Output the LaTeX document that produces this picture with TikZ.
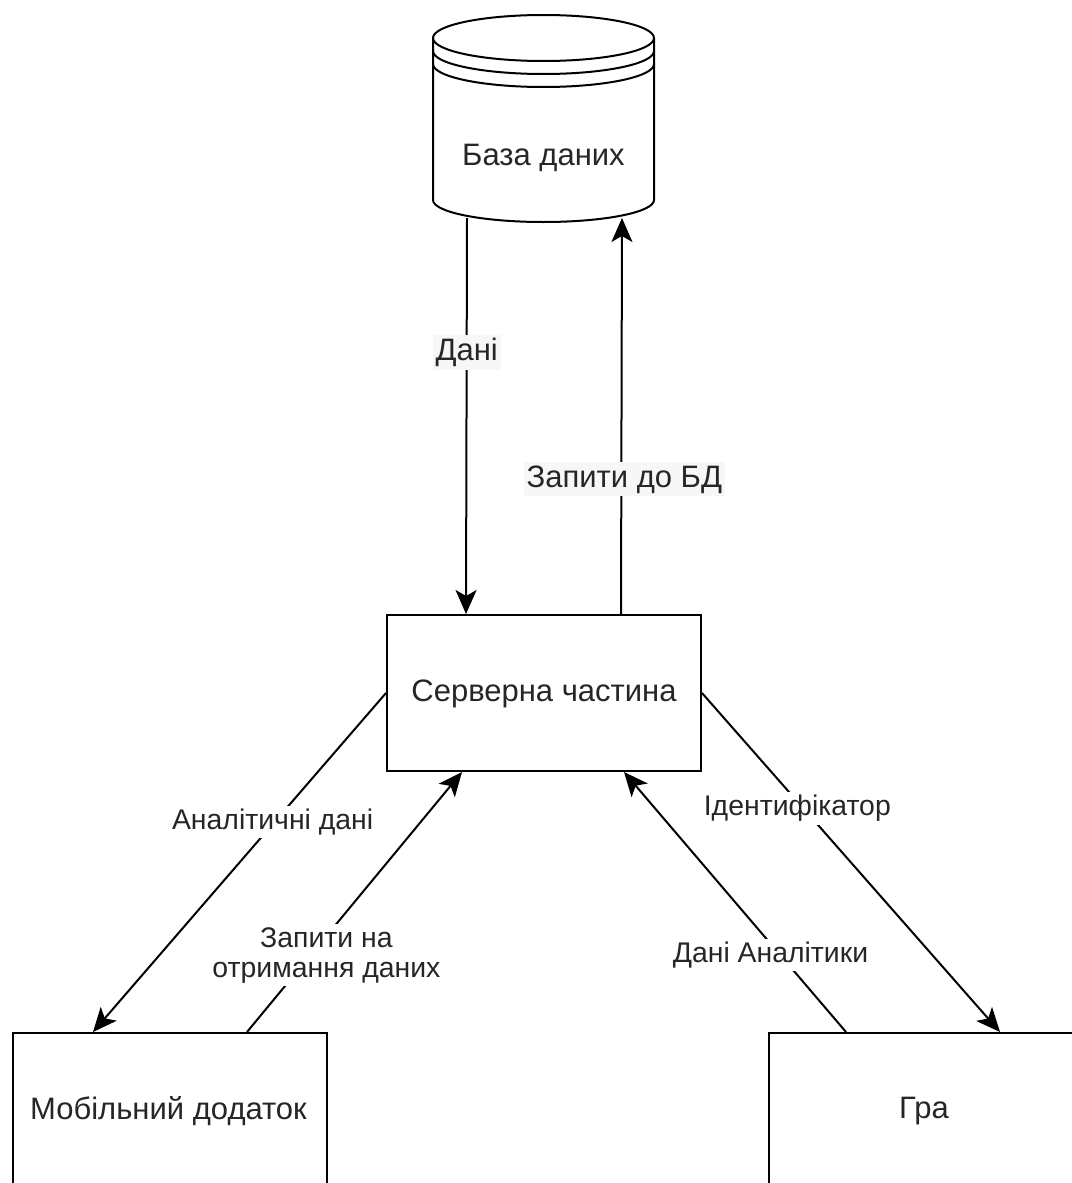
\documentclass[tikz,border=0pt]{standalone}
\usepackage{fontspec}
\setmainfont{Liberation Sans}
\usetikzlibrary{arrows.meta,calc}
\begin{document}
\begin{tikzpicture}[x=1pt,y=-1pt,
  ntext/.style={font=\fontsize{31}{36}\selectfont,text=black!85},
  box/.style={draw=black,line width=2pt,fill=white,minimum width=314pt,minimum height=156pt,inner sep=0pt,ntext},
  conn/.style={line width=2pt,-{Stealth[length=24pt,width=21pt,inset=6pt]}},
  elabel/.style={fill=white,inner sep=3pt,font=\fontsize{28.4}{33}\selectfont,text=black!85,align=center},
  vlabel/.style={elabel,fill=black!3,font=\fontsize{31}{36}\selectfont}]
\useasboundingbox (0,0) rectangle (1071,1183);
% database cylinder
\begin{scope}[line width=2pt]
\draw[fill=white] (433,38) -- (433,200) arc[start angle=180,end angle=0,x radius=110.5,y radius=22] -- (654,38);
\draw[fill=white] (543.5,38) ellipse[x radius=110.5,y radius=23];
\draw (433,51) arc[start angle=180,end angle=0,x radius=110.5,y radius=23];
\draw (433,64) arc[start angle=180,end angle=0,x radius=110.5,y radius=23];
\end{scope}
\node[ntext] (db) at (543.5,158) {База даних};
\coordinate (dbl) at (467,218);
\coordinate (dbr) at (622,218);
% boxes
\node[box] (srv) at (544,693) {};
\node[ntext] (srvt) at (544,694) {Серверна частина};
\node[box,minimum height=160pt,anchor=north west] (mob) at (12,1032) {};
\node[ntext] (mobt) at (168.5,1111) {Мобільний додаток};
\node[box,minimum height=160pt,anchor=north west] (game) at (768,1032) {};
\node[ntext] (gamet) at (924,1111) {Гра};
% connectors
\draw[conn] (dbl) -- node[vlabel,pos=0.34]{Дані} ([xshift=80pt]srv.north west);
\draw[conn] ([xshift=235pt]srv.north west) -- node[vlabel,pos=0.34,xshift=3pt]{Запити до БД} (dbr);
\draw[conn] (srv.west) -- node[elabel,pos=0.38,xshift=-2pt]{Аналітичні дані} ([xshift=81pt]mob.north west);
\draw[conn] ([xshift=235pt]mob.north west) -- node[elabel,pos=0.295,xshift=16pt]{Запити на\\[-3pt]отримання даних} ([xshift=76pt]srv.south west);
\draw[conn] (srv.east) -- node[elabel,pos=0.34,xshift=-6pt]{Ідентифікатор} ([xshift=232pt]game.north west);
\draw[conn] ([xshift=78pt]game.north west) -- node[elabel,pos=0.295,xshift=-10pt]{Дані Аналітики} ([xshift=238pt]srv.south west);
\end{tikzpicture}
\end{document}
